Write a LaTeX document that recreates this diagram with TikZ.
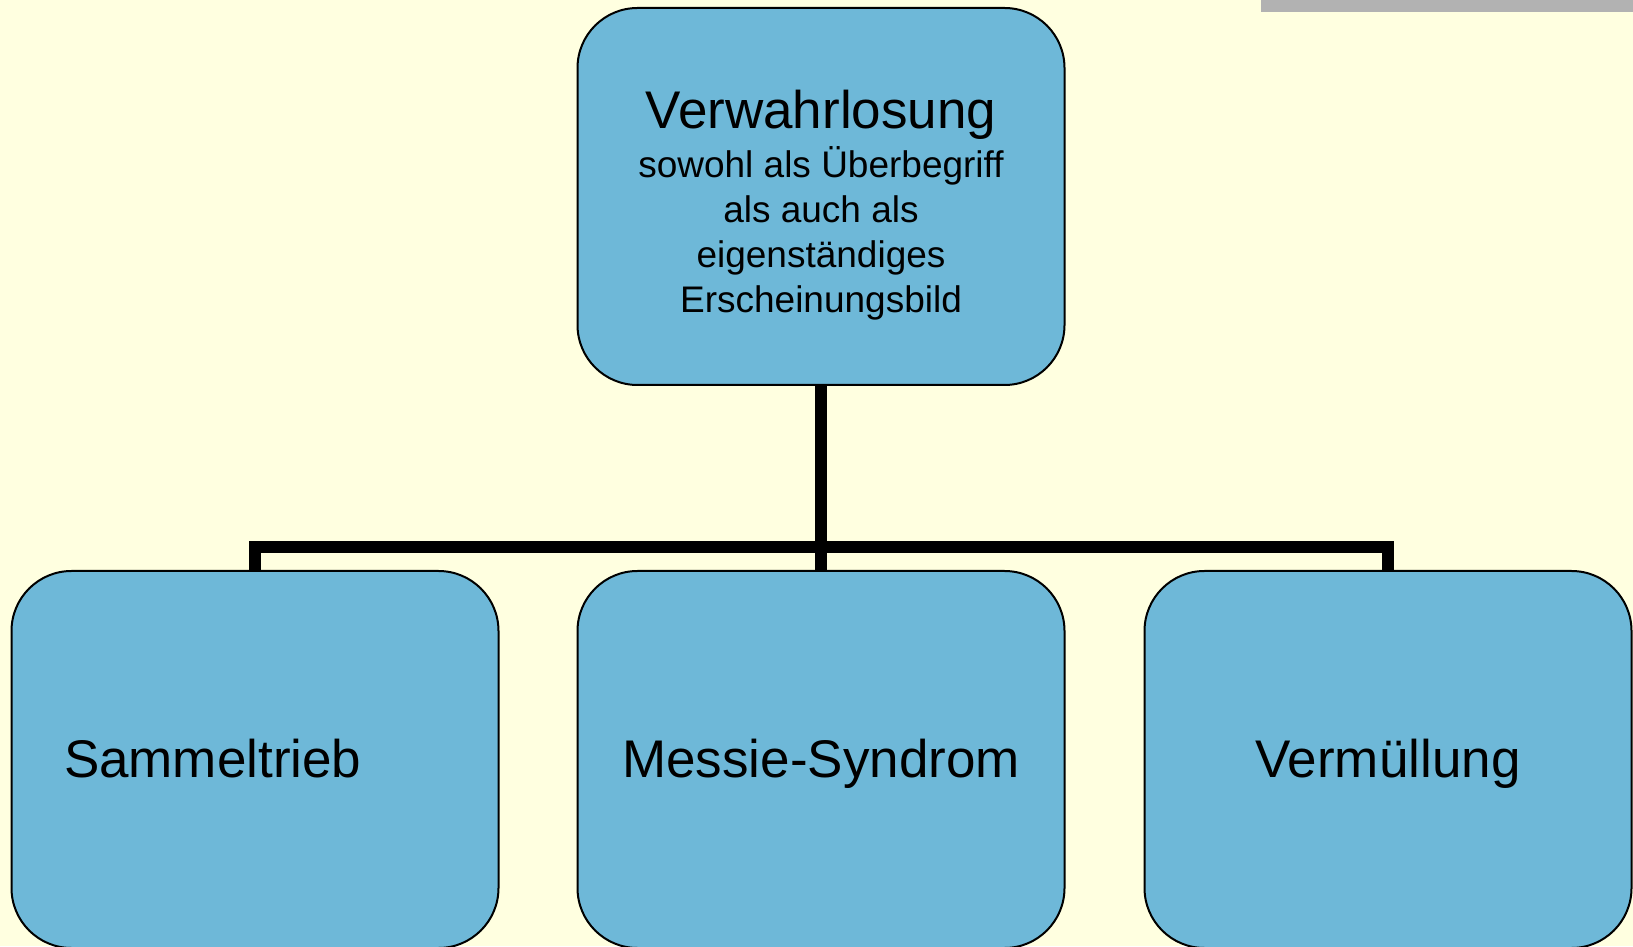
\documentclass[tikz,border=0pt]{standalone}
\usepackage{fontspec}
\setmainfont{Liberation Sans}
\usepackage{xcolor}
\usetikzlibrary{positioning}

\definecolor{paper}{RGB}{255,255,224}
\definecolor{boxblue}{RGB}{110,184,216}
\definecolor{bargray}{RGB}{178,178,178}

\tikzset{
  leaf/.style={draw=black, line width=2pt, fill=boxblue, rounded corners=60pt,
    minimum width=487pt, minimum height=377pt, inner sep=0pt, align=center,
    font=\fontsize{53}{60}\selectfont, text height=35pt, text depth=0pt},
  root/.style={leaf, text height=, text depth=, font=\fontsize{37}{45}\selectfont},
  branch/.style={line width=12pt, line join=miter}
}

\begin{document}
\begin{tikzpicture}[x=1pt, y=1pt, node distance=184pt]
\useasboundingbox (0,0) rectangle (1633,946);
\fill [paper] (0,0) rectangle (1633,946);
\fill [bargray] (1261,934) rectangle (1633,946);

\node (neglect) [root] at (821,749.5) {\rule{0pt}{56pt}{\fontsize{53}{60}\selectfont Verwahrlosung}\\[4pt]
  sowohl als Überbegriff\\
  als auch als\\
  eigenständiges\\
  Erscheinungsbild};

\node (messie) [leaf, below=of neglect] {Messie-Syndrom};

\node (collect) [leaf, left=77pt of messie, text width=382pt, align=left, inner xsep=52pt] {Sammeltrieb};

\node (litter) [leaf, right=78pt of messie] {Vermüllung};

\draw [branch] (neglect.south) -- (messie.north);
\draw [branch] (collect.north) -- ++(0,23) -| (litter.north);

\end{tikzpicture}
\end{document}
